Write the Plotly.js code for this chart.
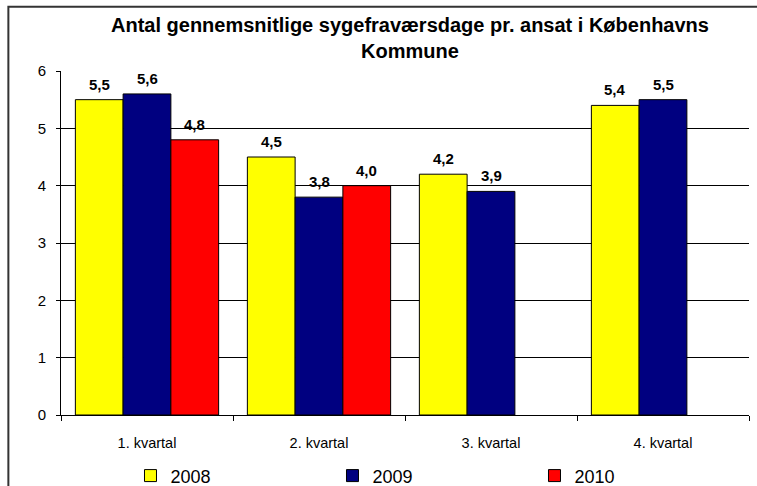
<!DOCTYPE html>
<html>
<head>
<meta charset="utf-8">
<script src="https://cdn.plot.ly/plotly-3.0.1.min.js"></script>
<style>
html,body{margin:0;padding:0;background:#fff;}
#chart{width:757px;height:486px;}
</style>
</head>
<body>
<div id="chart"></div>
<script>
var categories = ["1. kvartal", "2. kvartal", "3. kvartal", "4. kvartal"];
var seriesNames = ["2008", "2009", "2010"];
var values2008 = [5.5, 4.5, 4.2, 5.4];
var values2009 = [5.6, 3.8, 3.9, 5.5];
var values2010 = [4.8, 4.0, null, null];
var yTicks = [0, 1, 2, 3, 4, 5, 6];
var titleText = "Antal gennemsnitlige sygefraværsdage pr. ansat i Københavns<br>Kommune";

var colors = ["#FFFF00", "#000080", "#FF0000"];
var allValues = [values2008, values2009, values2010];
var FONT = "Liberation Sans, Arial, sans-serif";
var bargap = 0.167;
var barW = (1 - bargap) / 3;

var traces = allValues.map(function (vals, k) {
  return {
    type: "bar",
    name: seriesNames[k],
    x: categories,
    y: vals,
    marker: {color: colors[k], line: {color: "#000000", width: 1}},
    hoverinfo: "x+y+name"
  };
});

var annotations = [];
allValues.forEach(function (vals, k) {
  vals.forEach(function (v, i) {
    if (v === null) return;
    annotations.push({
      xref: "x", yref: "y",
      x: i + (k - 1) * barW, y: v,
      text: "<b>" + v.toFixed(1).replace(".", ",") + "</b>",
      showarrow: false, yanchor: "bottom", yshift: 5,
      font: {family: FONT, size: 15, color: "#000"}
    });
  });
});

var layout = {
  width: 757, height: 486,
  margin: {l: 61, r: 8, t: 71, b: 71, autoexpand: false},
  paper_bgcolor: "#ffffff", plot_bgcolor: "#ffffff",
  font: {family: FONT, color: "#000"},
  title: {
    text: "<b>" + titleText + "</b>",
    font: {family: FONT, size: 20, color: "#000"},
    x: 0.5416, xanchor: "center", xref: "container",
    y: 0.935, yanchor: "top", yref: "container"
  },
  barmode: "group",
  bargap: bargap,
  bargroupgap: 0,
  xaxis: {
    type: "category",
    tickson: "boundaries",
    ticks: "outside", ticklen: 5, tickcolor: "#000", tickwidth: 1,
    showline: true, linecolor: "#000", linewidth: 1,
    showgrid: false, zeroline: false,
    tickfont: {family: FONT, size: 14.5, color: "#000"},
    ticklabelstandoff: 15,
    range: [-0.5, 3.5]
  },
  yaxis: {
    range: [0, 6],
    tickvals: yTicks,
    ticktext: yTicks.map(String),
    ticks: "outside", ticklen: 4, tickcolor: "#000",
    showline: true, linecolor: "#000", linewidth: 1,
    showgrid: true, gridcolor: "#000", gridwidth: 1,
    zeroline: false,
    tickfont: {family: FONT, size: 15, color: "#000"},
    ticklabelstandoff: 7
  },
  showlegend: true,
  legend: {
    orientation: "h",
    x: 0.101, xanchor: "left", xref: "paper",
    y: -0.177, yanchor: "middle", yref: "paper",
    entrywidth: 157, entrywidthmode: "pixels",
    font: {family: FONT, size: 18, color: "#000"},
    itemwidth: 30,
    bgcolor: "rgba(0,0,0,0)"
  },
  annotations: annotations,
  shapes: [{
    type: "rect", xref: "paper", yref: "paper",
    x0: -0.0765, x1: 1.03, y0: -0.23, y1: 1.1865,
    line: {color: "#333333", width: 2}, fillcolor: "rgba(0,0,0,0)",
    layer: "above"
  }]
};

Plotly.newPlot("chart", traces, layout, {displayModeBar: false, staticPlot: true});
</script>
</body>
</html>
